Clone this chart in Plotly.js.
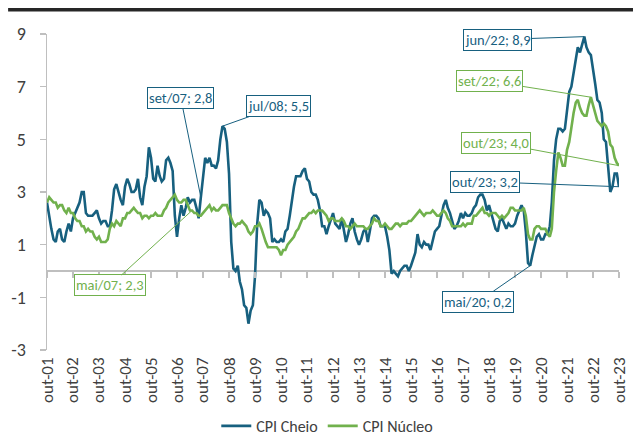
<!DOCTYPE html>
<html>
<head>
<meta charset="utf-8">
<script src="https://cdn.plot.ly/plotly-3.0.1.min.js"></script>
<style>html,body{margin:0;padding:0;background:#fff;}#chart{width:633px;height:443px;}</style>
</head>
<body>
<div id="chart"></div>
<script>
// Monthly series, out/2001 .. out/2023 (YoY %)
const startYear = 2001, startMonth = 10;
const cpiCheio = [
  2.6, 2.0, 1.6,                                               // 2001 (out-dez)
  1.2, 1.1, 1.5, 1.6, 1.2, 1.1, 1.5, 1.8, 1.5, 2.0, 2.2, 2.4,  // 2002
  2.6, 3.0, 3.0, 2.2, 2.1, 2.1, 2.1, 2.2, 2.3, 2.0, 1.8, 1.9,  // 2003
  1.9, 1.7, 1.7, 2.3, 3.1, 3.3, 3.0, 2.7, 2.5, 3.2, 3.5, 3.3,  // 2004
  3.0, 3.0, 3.1, 3.5, 2.8, 2.5, 3.2, 3.6, 4.7, 4.3, 3.5, 3.4,  // 2005
  4.0, 3.6, 3.4, 3.5, 4.2, 4.3, 4.1, 3.8, 2.1, 1.3, 2.0, 2.5,  // 2006
  2.1, 2.4, 2.8, 2.6, 2.7, 2.7, 2.4, 2.0, 2.8, 3.5, 4.3, 4.1,  // 2007
  4.3, 4.0, 4.0, 3.9, 4.2, 5.0, 5.5, 5.4, 4.9, 3.7, 1.1, 0.1,  // 2008
  0.0, 0.2, -0.4, -0.7, -1.3, -1.4, -2.0, -1.5, -1.3, -0.2, 1.8, 2.7, // 2009
  2.6, 2.1, 2.3, 2.2, 2.0, 1.1, 1.2, 1.1, 1.1, 1.2, 1.1, 1.5,  // 2010
  1.6, 2.1, 2.7, 3.2, 3.6, 3.6, 3.6, 3.8, 3.9, 3.5, 3.4, 3.0,  // 2011
  2.9, 2.9, 2.7, 2.3, 1.7, 1.7, 1.4, 1.7, 2.0, 2.2, 1.8, 1.7,  // 2012
  1.6, 2.0, 1.5, 1.1, 1.4, 1.8, 2.0, 1.5, 1.2, 1.0, 1.2, 1.5,  // 2013
  1.6, 1.1, 1.5, 2.0, 2.1, 2.1, 2.0, 1.7, 1.7, 1.7, 1.3, 0.8,  // 2014
  -0.1, 0.0, -0.1, -0.2, 0.0, 0.1, 0.2, 0.2, 0.0, 0.2, 0.5, 0.7, // 2015
  1.4, 1.0, 0.9, 1.1, 1.0, 1.0, 0.8, 1.1, 1.5, 1.6, 1.7, 2.1,  // 2016
  2.5, 2.7, 2.4, 2.2, 1.9, 1.6, 1.7, 1.9, 2.2, 2.0, 2.2, 2.1,  // 2017
  2.1, 2.2, 2.4, 2.5, 2.8, 2.9, 2.9, 2.7, 2.3, 2.5, 2.2, 1.9,  // 2018
  1.6, 1.5, 1.9, 2.0, 1.8, 1.6, 1.8, 1.7, 1.7, 1.8, 2.1, 2.3,  // 2019
  2.5, 2.3, 1.5, 0.3, 0.2, 0.6, 1.0, 1.3, 1.4, 1.2, 1.2, 1.4,  // 2020
  1.4, 1.7, 2.6, 4.2, 5.0, 5.4, 5.4, 5.3, 5.4, 6.2, 6.8, 7.0,  // 2021
  7.5, 7.9, 8.5, 8.3, 8.6, 8.9, 8.5, 8.3, 8.2, 7.7, 7.1, 6.5,  // 2022
  6.4, 6.0, 5.0, 4.9, 4.0, 3.0, 3.2, 3.7, 3.7, 3.2             // 2023 (jan-out)
];
const cpiNucleo = [
  2.6, 2.8, 2.7,                                               // 2001
  2.6, 2.6, 2.4, 2.5, 2.5, 2.3, 2.2, 2.4, 2.2, 2.2, 2.0, 1.9,  // 2002
  1.9, 1.7, 1.7, 1.5, 1.6, 1.5, 1.5, 1.3, 1.2, 1.3, 1.1, 1.1,  // 2003
  1.1, 1.2, 1.6, 1.8, 1.7, 1.9, 1.8, 1.7, 2.0, 2.0, 2.2, 2.2,  // 2004
  2.3, 2.4, 2.3, 2.2, 2.2, 2.0, 2.1, 2.1, 2.0, 2.1, 2.1, 2.2,  // 2005
  2.1, 2.1, 2.1, 2.3, 2.4, 2.6, 2.7, 2.8, 2.9, 2.7, 2.6, 2.6,  // 2006
  2.7, 2.7, 2.5, 2.3, 2.3, 2.2, 2.2, 2.1, 2.1, 2.2, 2.3, 2.4,  // 2007
  2.5, 2.3, 2.4, 2.3, 2.3, 2.4, 2.5, 2.5, 2.5, 2.2, 2.0, 1.8,  // 2008
  1.7, 1.8, 1.8, 1.9, 1.8, 1.7, 1.5, 1.4, 1.5, 1.7, 1.7, 1.8,  // 2009
  1.6, 1.3, 1.1, 0.9, 0.9, 0.9, 0.9, 0.9, 0.8, 0.6, 0.8, 0.8,  // 2010
  1.0, 1.1, 1.2, 1.3, 1.5, 1.6, 1.8, 2.0, 2.0, 2.1, 2.2, 2.2,  // 2011
  2.3, 2.2, 2.3, 2.3, 2.3, 2.2, 2.1, 1.9, 2.0, 2.0, 1.9, 1.9,  // 2012
  1.9, 2.0, 1.9, 1.7, 1.7, 1.6, 1.7, 1.8, 1.7, 1.7, 1.7, 1.7,  // 2013
  1.6, 1.6, 1.7, 1.8, 2.0, 1.9, 1.9, 1.7, 1.7, 1.8, 1.7, 1.6,  // 2014
  1.6, 1.7, 1.8, 1.8, 1.7, 1.8, 1.8, 1.8, 1.9, 1.9, 2.0, 2.1,  // 2015
  2.2, 2.3, 2.2, 2.1, 2.2, 2.2, 2.2, 2.3, 2.2, 2.1, 2.1, 2.2,  // 2016
  2.3, 2.2, 2.0, 1.9, 1.7, 1.7, 1.7, 1.7, 1.7, 1.8, 1.7, 1.8,  // 2017
  1.8, 1.8, 2.1, 2.1, 2.2, 2.3, 2.4, 2.2, 2.2, 2.1, 2.2, 2.2,  // 2018
  2.2, 2.1, 2.0, 2.1, 2.0, 2.1, 2.2, 2.4, 2.4, 2.3, 2.3, 2.3,  // 2019
  2.3, 2.4, 2.1, 1.4, 1.2, 1.2, 1.6, 1.7, 1.7, 1.6, 1.6, 1.6,  // 2020
  1.4, 1.3, 1.6, 3.0, 3.8, 4.5, 4.3, 4.0, 4.0, 4.6, 4.9, 5.5,  // 2021
  6.0, 6.4, 6.5, 6.2, 6.0, 5.9, 5.9, 6.3, 6.6, 6.3, 6.0, 5.7,  // 2022
  5.6, 5.5, 5.6, 5.5, 5.3, 4.8, 4.7, 4.3, 4.1, 4.0             // 2023
];
const tickLabels = ["out-01","out-02","out-03","out-04","out-05","out-06","out-07","out-08",
  "out-09","out-10","out-11","out-12","out-13","out-14","out-15","out-16","out-17","out-18",
  "out-19","out-20","out-21","out-22","out-23"];
const yTicks = [-3, -1, 1, 3, 5, 7, 9];
const yRange = [-3, 9];
const seriesNames = ["CPI Cheio", "CPI Núcleo"];
const colors = {cheio: "#17607f", nucleo: "#71b14d"};

// Callouts: [label month (yyyy-mm), series, text, dx, dy]
const callouts = [
  ["2007-09", "cheio",  "set/07; 2,8", -20, -99],
  ["2008-07", "cheio",  "jul/08; 5,5",  56, -20],
  ["2007-05", "nucleo", "mai/07; 2,3", -82,  75],
  ["2022-06", "cheio",  "jun/22; 8,9", -87,   3],
  ["2022-09", "nucleo", "set/22; 6,6", -101, -16],
  ["2023-10", "nucleo", "out/23; 4,0", -123, -23],
  ["2023-10", "cheio",  "out/23; 3,2", -134,  -5],
  ["2020-05", "cheio",  "mai/20; 0,2", -52,   36]
];

function pad(n){return (n<10?"0":"")+n;}
const dates = cpiCheio.map((_, i) => {
  const m = startMonth - 1 + i;
  return (startYear + Math.floor(m / 12)) + "-" + pad(m % 12 + 1) + "-01";
});
const tickVals = tickLabels.map((_, i) => (startYear + i) + "-10-01");
const xRange = [dates[0], dates[dates.length - 1]];
const series = {cheio: cpiCheio, nucleo: cpiNucleo};

const FONT = "Carlito, Lato, 'Open Sans', sans-serif";
const traces = [
  {x: dates, y: cpiCheio, name: seriesNames[0], type: "scatter", mode: "lines",
   line: {color: colors.cheio, width: 2.6}, hoverinfo: "skip"},
  {x: dates, y: cpiNucleo, name: seriesNames[1], type: "scatter", mode: "lines",
   line: {color: colors.nucleo, width: 2.6}, hoverinfo: "skip"},
  {x: dates, y: cpiCheio, xaxis: "x2", type: "scatter", mode: "lines", opacity: 0,
   showlegend: false, hoverinfo: "skip", line: {width: 0.1}}
];

const annotations = callouts.map(c => {
  const idx = dates.indexOf(c[0] + "-01");
  const col = colors[c[1]];
  return {x: dates[idx], y: series[c[1]][idx], xref: "x", yref: "y",
    text: c[2], showarrow: true, arrowhead: 0, arrowwidth: 1, arrowcolor: col,
    ax: c[3], ay: c[4], standoff: 0,
    bordercolor: col, borderwidth: 1, borderpad: 1, bgcolor: "#ffffff",
    font: {family: FONT, size: 14.5, color: col}};
});

const layout = {
  width: 633, height: 443,
  margin: {l: 47, r: 14, t: 34, b: 93},
  paper_bgcolor: "#ffffff", plot_bgcolor: "#ffffff",
  font: {family: FONT, color: "#404040"},
  showlegend: true,
  legend: {orientation: "h", x: 0.49, xanchor: "center", yref: "container", y: 0,
    yanchor: "bottom", font: {family: FONT, size: 16, color: "#404040"}, itemwidth: 30,
    tracegroupgap: 0, borderwidth: 0},
  xaxis: {type: "date", range: xRange, tickvals: tickVals, ticktext: tickLabels,
    tickangle: -90, showgrid: false, zeroline: false, showline: false, ticks: "",
    ticklabelstandoff: 3,
    tickfont: {family: FONT, size: 17, color: "#404040"}, fixedrange: true},
  xaxis2: {type: "date", range: xRange, overlaying: "x", anchor: "free",
    position: (0 - yRange[0]) / (yRange[1] - yRange[0]), side: "bottom",
    tickvals: tickVals, showticklabels: false, ticks: "outside", ticklen: 6,
    tickcolor: "#bfbfbf", tickwidth: 1.2, showline: false, showgrid: false, zeroline: false},
  yaxis: {range: yRange, tickvals: yTicks, ticktext: yTicks.map(String),
    showgrid: false, zeroline: true, zerolinecolor: "#bfbfbf", zerolinewidth: 1.6,
    showline: true, linecolor: "#bfbfbf", linewidth: 1.5, ticks: "outside", ticklen: 6,
    tickcolor: "#bfbfbf", tickwidth: 1.2, ticklabelstandoff: 10,
    tickfont: {family: FONT, size: 18, color: "#404040"}},
  shapes: [{type: "line", xref: "paper", yref: "paper",
    x0: -0.068, x1: 1.03, y0: 1.077, y1: 1.077, line: {color: "#262626", width: 3.5}}],
  annotations: annotations
};

Plotly.newPlot("chart", traces, layout, {staticPlot: true, displayModeBar: false});
</script>
</body>
</html>
